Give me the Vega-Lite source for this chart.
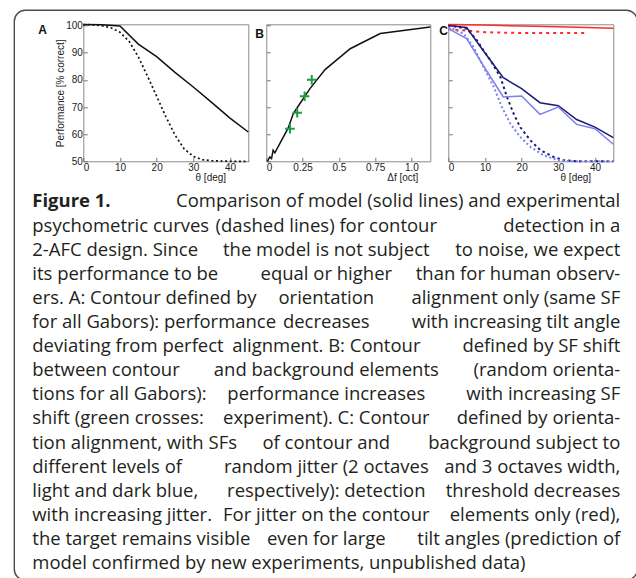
{
 "$schema": "https://vega.github.io/schema/vega-lite/v6.json",
 "background": "white",
 "padding": {"left": 13.3, "top": 9.3, "right": 0, "bottom": 0},
 "config": {
  "font": "Liberation Sans",
  "view": {"stroke": "#8a8a8a", "strokeWidth": 1},
  "axis": {"grid": false, "domain": false, "tickColor": "#777", "tickSize": -4, "labelFont": "Liberation Sans", "labelFontSize": 10, "labelColor": "#222", "labelPadding": 5, "titleFont": "Liberation Sans", "titleFontSize": 10, "titleFontWeight": "normal", "titleColor": "#222"},
  "title": {"font": "Liberation Sans", "fontSize": 12, "fontWeight": "bold", "color": "#111", "anchor": "start", "frame": "group", "offset": 0, "baseline": "top"}
 },
 "datasets": {
  "panelA": [
   {"theta": 0, "perf": 100.4, "curve": "model"},
   {"theta": 5, "perf": 100.3, "curve": "model"},
   {"theta": 10, "perf": 99.9, "curve": "model"},
   {"theta": 15, "perf": 93.2, "curve": "model"},
   {"theta": 20, "perf": 88.6, "curve": "model"},
   {"theta": 25, "perf": 82.8, "curve": "model"},
   {"theta": 30, "perf": 77.4, "curve": "model"},
   {"theta": 35, "perf": 71.7, "curve": "model"},
   {"theta": 40, "perf": 65.9, "curve": "model"},
   {"theta": 45, "perf": 60.8, "curve": "model"},
   {"theta": 0, "perf": 100.4, "curve": "experiment"},
   {"theta": 2.5, "perf": 100.3, "curve": "experiment"},
   {"theta": 5, "perf": 100.0, "curve": "experiment"},
   {"theta": 7.5, "perf": 99.2, "curve": "experiment"},
   {"theta": 10, "perf": 97.6, "curve": "experiment"},
   {"theta": 12.5, "perf": 94.2, "curve": "experiment"},
   {"theta": 15, "perf": 88.5, "curve": "experiment"},
   {"theta": 17.5, "perf": 81.4, "curve": "experiment"},
   {"theta": 20, "perf": 74.0, "curve": "experiment"},
   {"theta": 22.5, "perf": 66.5, "curve": "experiment"},
   {"theta": 25, "perf": 59.7, "curve": "experiment"},
   {"theta": 27.5, "perf": 54.6, "curve": "experiment"},
   {"theta": 30, "perf": 51.8, "curve": "experiment"},
   {"theta": 32.5, "perf": 50.6, "curve": "experiment"},
   {"theta": 35, "perf": 50.2, "curve": "experiment"},
   {"theta": 40, "perf": 50.0, "curve": "experiment"},
   {"theta": 45, "perf": 50.0, "curve": "experiment"}
  ],
  "panelB": [
   {"df": 0.008, "perf": 50.0, "curve": "model"},
   {"df": 0.024, "perf": 51.6, "curve": "model"},
   {"df": 0.036, "perf": 51.0, "curve": "model"},
   {"df": 0.047, "perf": 54.1, "curve": "model"},
   {"df": 0.059, "perf": 53.1, "curve": "model"},
   {"df": 0.105, "perf": 57.7, "curve": "model"},
   {"df": 0.151, "perf": 62.3, "curve": "model"},
   {"df": 0.186, "perf": 67.6, "curve": "model"},
   {"df": 0.232, "perf": 71.3, "curve": "model"},
   {"df": 0.301, "perf": 76.8, "curve": "model"},
   {"df": 0.405, "perf": 83.8, "curve": "model"},
   {"df": 0.578, "perf": 91.5, "curve": "model"},
   {"df": 0.785, "perf": 97.1, "curve": "model"},
   {"df": 1.13, "perf": 99.5, "curve": "model"},
   {"df": 0.163, "perf": 62.0, "curve": "experiment"},
   {"df": 0.213, "perf": 67.9, "curve": "experiment"},
   {"df": 0.264, "perf": 74.0, "curve": "experiment"},
   {"df": 0.313, "perf": 80.1, "curve": "experiment"}
  ],
  "panelC": [
   {"theta": 0, "perf": 100.4, "series": "contour only", "curve": "model"},
   {"theta": 10, "perf": 100.2, "series": "contour only", "curve": "model"},
   {"theta": 20, "perf": 99.9, "series": "contour only", "curve": "model"},
   {"theta": 30, "perf": 99.6, "series": "contour only", "curve": "model"},
   {"theta": 40, "perf": 99.2, "series": "contour only", "curve": "model"},
   {"theta": 45, "perf": 99.0, "series": "contour only", "curve": "model"},
   {"theta": 0, "perf": 98.7, "series": "contour only", "curve": "experiment"},
   {"theta": 5, "perf": 98.2, "series": "contour only", "curve": "experiment"},
   {"theta": 10, "perf": 97.6, "series": "contour only", "curve": "experiment"},
   {"theta": 15, "perf": 97.4, "series": "contour only", "curve": "experiment"},
   {"theta": 20, "perf": 97.3, "series": "contour only", "curve": "experiment"},
   {"theta": 25, "perf": 97.3, "series": "contour only", "curve": "experiment"},
   {"theta": 30, "perf": 97.3, "series": "contour only", "curve": "experiment"},
   {"theta": 35, "perf": 97.3, "series": "contour only", "curve": "experiment"},
   {"theta": 37.5, "perf": 97.3, "series": "contour only", "curve": "experiment"},
   {"theta": 0, "perf": 100.1, "series": "3 octaves", "curve": "model"},
   {"theta": 5, "perf": 99.3, "series": "3 octaves", "curve": "model"},
   {"theta": 10, "perf": 89.9, "series": "3 octaves", "curve": "model"},
   {"theta": 15, "perf": 80.8, "series": "3 octaves", "curve": "model"},
   {"theta": 20, "perf": 76.8, "series": "3 octaves", "curve": "model"},
   {"theta": 25, "perf": 71.6, "series": "3 octaves", "curve": "model"},
   {"theta": 30, "perf": 70.5, "series": "3 octaves", "curve": "model"},
   {"theta": 35, "perf": 65.4, "series": "3 octaves", "curve": "model"},
   {"theta": 40, "perf": 62.6, "series": "3 octaves", "curve": "model"},
   {"theta": 45, "perf": 58.7, "series": "3 octaves", "curve": "model"},
   {"theta": 0, "perf": 98.9, "series": "2 octaves", "curve": "model"},
   {"theta": 5, "perf": 95.2, "series": "2 octaves", "curve": "model"},
   {"theta": 10, "perf": 84.3, "series": "2 octaves", "curve": "model"},
   {"theta": 15, "perf": 73.7, "series": "2 octaves", "curve": "model"},
   {"theta": 20, "perf": 74.1, "series": "2 octaves", "curve": "model"},
   {"theta": 25, "perf": 67.3, "series": "2 octaves", "curve": "model"},
   {"theta": 30, "perf": 70.0, "series": "2 octaves", "curve": "model"},
   {"theta": 35, "perf": 63.6, "series": "2 octaves", "curve": "model"},
   {"theta": 40, "perf": 62.0, "series": "2 octaves", "curve": "model"},
   {"theta": 45, "perf": 56.3, "series": "2 octaves", "curve": "model"},
   {"theta": 0, "perf": 100.1, "series": "3 octaves", "curve": "experiment"},
   {"theta": 5.1, "perf": 98.9, "series": "3 octaves", "curve": "experiment"},
   {"theta": 7.8, "perf": 94.6, "series": "3 octaves", "curve": "experiment"},
   {"theta": 9.6, "perf": 90.9, "series": "3 octaves", "curve": "experiment"},
   {"theta": 11.5, "perf": 87.2, "series": "3 octaves", "curve": "experiment"},
   {"theta": 14.2, "perf": 81.1, "series": "3 octaves", "curve": "experiment"},
   {"theta": 16.0, "perf": 73.7, "series": "3 octaves", "curve": "experiment"},
   {"theta": 17.8, "perf": 67.6, "series": "3 octaves", "curve": "experiment"},
   {"theta": 19.6, "perf": 62.6, "series": "3 octaves", "curve": "experiment"},
   {"theta": 22.4, "perf": 57.7, "series": "3 octaves", "curve": "experiment"},
   {"theta": 25.1, "perf": 54.1, "series": "3 octaves", "curve": "experiment"},
   {"theta": 28.7, "perf": 51.6, "series": "3 octaves", "curve": "experiment"},
   {"theta": 31.4, "perf": 50.4, "series": "3 octaves", "curve": "experiment"},
   {"theta": 35.5, "perf": 50.0, "series": "3 octaves", "curve": "experiment"},
   {"theta": 45, "perf": 50.0, "series": "3 octaves", "curve": "experiment"},
   {"theta": 0, "perf": 99.5, "series": "2 octaves", "curve": "experiment"},
   {"theta": 4.2, "perf": 97.1, "series": "2 octaves", "curve": "experiment"},
   {"theta": 6.9, "perf": 92.1, "series": "2 octaves", "curve": "experiment"},
   {"theta": 9.6, "perf": 84.8, "series": "2 octaves", "curve": "experiment"},
   {"theta": 12.4, "perf": 77.4, "series": "2 octaves", "curve": "experiment"},
   {"theta": 14.6, "perf": 70.0, "series": "2 octaves", "curve": "experiment"},
   {"theta": 16.9, "perf": 63.9, "series": "2 octaves", "curve": "experiment"},
   {"theta": 19.6, "perf": 59.0, "series": "2 octaves", "curve": "experiment"},
   {"theta": 22.4, "perf": 55.3, "series": "2 octaves", "curve": "experiment"},
   {"theta": 26.0, "perf": 52.2, "series": "2 octaves", "curve": "experiment"},
   {"theta": 29.6, "perf": 50.6, "series": "2 octaves", "curve": "experiment"},
   {"theta": 33.3, "perf": 50.0, "series": "2 octaves", "curve": "experiment"},
   {"theta": 45, "perf": 50.0, "series": "2 octaves", "curve": "experiment"}
  ],
  "caption": [
   {"line": 1, "left": "Figure 1.", "mid": "", "right": "Comparison of model (solid lines) and experimental"},
   {"line": 2, "left": "psychometric curves", "mid": "(dashed lines) for contour", "right": "detection in a"},
   {"line": 3, "left": "2-AFC design. Since", "mid": "the model is not subject", "right": "to noise, we expect"},
   {"line": 4, "left": "its performance to be", "mid": "equal or higher", "right": "than for human observ-"},
   {"line": 5, "left": "ers. A: Contour defined by", "mid": "orientation", "right": "alignment only (same SF"},
   {"line": 6, "left": "for all Gabors): performance", "mid": "decreases", "right": "with increasing tilt angle"},
   {"line": 7, "left": "deviating from perfect", "mid": "alignment. B: Contour", "right": "defined by SF shift"},
   {"line": 8, "left": "between contour", "mid": "and background elements", "right": "(random orienta-"},
   {"line": 9, "left": "tions for all Gabors):", "mid": "performance increases", "right": "with increasing SF"},
   {"line": 10, "left": "shift (green crosses:", "mid": "experiment). C: Contour", "right": "defined by orienta-"},
   {"line": 11, "left": "tion alignment, with SFs", "mid": "of contour and", "right": "background subject to"},
   {"line": 12, "left": "different levels of", "mid": "random jitter (2 octaves", "right": "and 3 octaves width,"},
   {"line": 13, "left": "light and dark blue,", "mid": "respectively): detection", "right": "threshold decreases"},
   {"line": 14, "left": "with increasing jitter.", "mid": "For jitter on the contour", "right": "elements only (red),"},
   {"line": 15, "left": "the target remains visible", "mid": "even for large", "right": "tilt angles (prediction of"},
   {"line": 16, "left": "model confirmed by new experiments, unpublished data)", "mid": "", "right": ""}
  ]
 },
 "bounds": "flush",
 "spacing": 159,
 "vconcat": [
  {"bounds": "flush", "spacing": 18, "hconcat": [
   {"data": {"values": []}, "mark": "point", "width": 51, "height": 137, "view": {"stroke": null}},
   {
    "width": 165, "height": 137,
    "title": {"text": "A", "dx": -45, "dy": 20.5},
    "data": {"name": "panelA"},
    "encoding": {
     "x": {"field": "theta", "type": "quantitative", "scale": {"domain": [0, 45], "nice": false, "zero": false}, "axis": {"values": [0, 10, 20, 30, 40], "title": "θ [deg]", "titleX": 127, "titleY": 11, "titleBaseline": "top", "titleAlign": "center"}},
     "y": {"field": "perf", "type": "quantitative", "scale": {"domain": [50, 100.5], "nice": false, "zero": false}, "axis": {"values": [50, 60, 70, 80, 90, 100], "title": "Performance [% correct]", "titleX": -23, "titleY": 68.5, "titleBaseline": "middle", "titleAlign": "center", "titleAngle": 270}}
    },
    "layer": [
     {"transform": [{"filter": "datum.curve === 'experiment'"}], "mark": {"type": "line", "color": "#111", "strokeWidth": 1.7, "strokeDash": [2, 2.6]}},
     {"transform": [{"filter": "datum.curve === 'model'"}], "mark": {"type": "line", "color": "#111", "strokeWidth": 1.5}}
    ]
   },
   {
    "width": 164, "height": 137,
    "title": {"text": "B", "dx": -11, "dy": 20.5},
    "data": {"name": "panelB"},
    "encoding": {
     "x": {"field": "df", "type": "quantitative", "scale": {"domain": [0, 1.13], "nice": false, "zero": false}, "axis": {"values": [0, 0.25, 0.5, 0.75, 1], "labelExpr": "datum.value === 0 ? '0' : datum.value === 1 ? '1.0' : format(datum.value, '.2~f')", "title": "Δf [oct]", "titleX": 136, "titleY": 11, "titleBaseline": "top", "titleAlign": "center"}},
     "y": {"field": "perf", "type": "quantitative", "scale": {"domain": [50, 100.5], "nice": false, "zero": false}, "axis": {"values": [50, 60, 70, 80, 90, 100], "labels": false, "title": null}}
    },
    "layer": [
     {"transform": [{"filter": "datum.curve === 'model'"}], "mark": {"type": "line", "color": "#111", "strokeWidth": 1.5}},
     {"transform": [{"filter": "datum.curve === 'experiment'"}], "mark": {"type": "point", "shape": "M-1,0L1,0M0,-1L0,1", "filled": false, "stroke": "#1f9a3c", "strokeWidth": 2, "size": 90, "opacity": 1}}
    ]
   },
   {
    "width": 165, "height": 137,
    "title": {"text": "C", "dx": -9, "dy": 20.5},
    "data": {"name": "panelC"},
    "encoding": {
     "x": {"field": "theta", "type": "quantitative", "scale": {"domain": [0, 45], "nice": false, "zero": false}, "axis": {"values": [0, 10, 20, 30, 40], "title": "θ [deg]", "titleX": 127, "titleY": 11, "titleBaseline": "top", "titleAlign": "center"}},
     "y": {"field": "perf", "type": "quantitative", "scale": {"domain": [50, 100.5], "nice": false, "zero": false}, "axis": {"values": [50, 60, 70, 80, 90, 100], "labels": false, "title": null}},
     "color": {"field": "series", "type": "nominal", "scale": {"domain": ["contour only", "3 octaves", "2 octaves"], "range": ["#ff2a2a", "#1b1b73", "#7f7ff2"]}, "legend": null}
    },
    "layer": [
     {"transform": [{"filter": "datum.curve === 'experiment'"}], "mark": {"type": "line", "strokeWidth": 2}, "encoding": {"strokeDash": {"field": "series", "type": "nominal", "scale": {"domain": ["contour only", "3 octaves", "2 octaves"], "range": [[3, 4], [2.5, 3], [2, 2.5]]}, "legend": null}}},
     {"transform": [{"filter": "datum.curve === 'model'"}], "mark": {"type": "line", "strokeWidth": 1.5}}
    ]
   }
  ]},
  {"bounds": "flush", "spacing": 17, "hconcat": [
   {"data": {"values": []}, "mark": "point", "width": 1, "height": 393, "view": {"stroke": null}},
   {
    "width": 588, "height": 393,
    "view": {"stroke": null},
    "data": {"name": "caption"},
    "encoding": {"y": {"field": "line", "type": "quantitative", "scale": {"domain": [0, 16.3], "reverse": true, "nice": false, "zero": false}, "axis": null}},
    "layer": [
     {"transform": [{"aggregate": [{"op": "count", "as": "n"}]}], "mark": {"type": "rect", "fill": null, "filled": false, "stroke": "#4d4d4d", "strokeWidth": 1.4, "cornerRadius": 11, "clip": false}, "encoding": {"x": {"value": -18}, "x2": {"value": 605}, "y": {"value": -173}, "y2": {"value": 397}}},
     {"transform": [{"filter": "datum.line > 1"}], "mark": {"type": "text", "align": "left", "baseline": "alphabetic", "font": "Open Sans", "fontSize": 18.5, "color": "#231f20"}, "encoding": {"x": {"datum": 0, "type": "quantitative", "scale": {"domain": [0, 2], "nice": false, "zero": false}, "axis": null}, "text": {"field": "left"}}},
     {"transform": [{"filter": "datum.line === 1"}], "mark": {"type": "text", "align": "left", "baseline": "alphabetic", "font": "Open Sans", "fontSize": 18.5, "fontWeight": "bold", "color": "#231f20"}, "encoding": {"x": {"datum": 0, "type": "quantitative", "scale": {"domain": [0, 2], "nice": false, "zero": false}, "axis": null}, "text": {"field": "left"}}},
     {"mark": {"type": "text", "align": "center", "baseline": "alphabetic", "font": "Open Sans", "fontSize": 18.5, "color": "#231f20"}, "encoding": {"x": {"datum": 1, "type": "quantitative", "scale": {"domain": [0, 2], "nice": false, "zero": false}, "axis": null}, "text": {"field": "mid"}}},
     {"mark": {"type": "text", "align": "right", "baseline": "alphabetic", "font": "Open Sans", "fontSize": 18.5, "color": "#231f20"}, "encoding": {"x": {"datum": 2, "type": "quantitative", "scale": {"domain": [0, 2], "nice": false, "zero": false}, "axis": null}, "text": {"field": "right"}}}
    ]
   }
  ]}
 ]
}
